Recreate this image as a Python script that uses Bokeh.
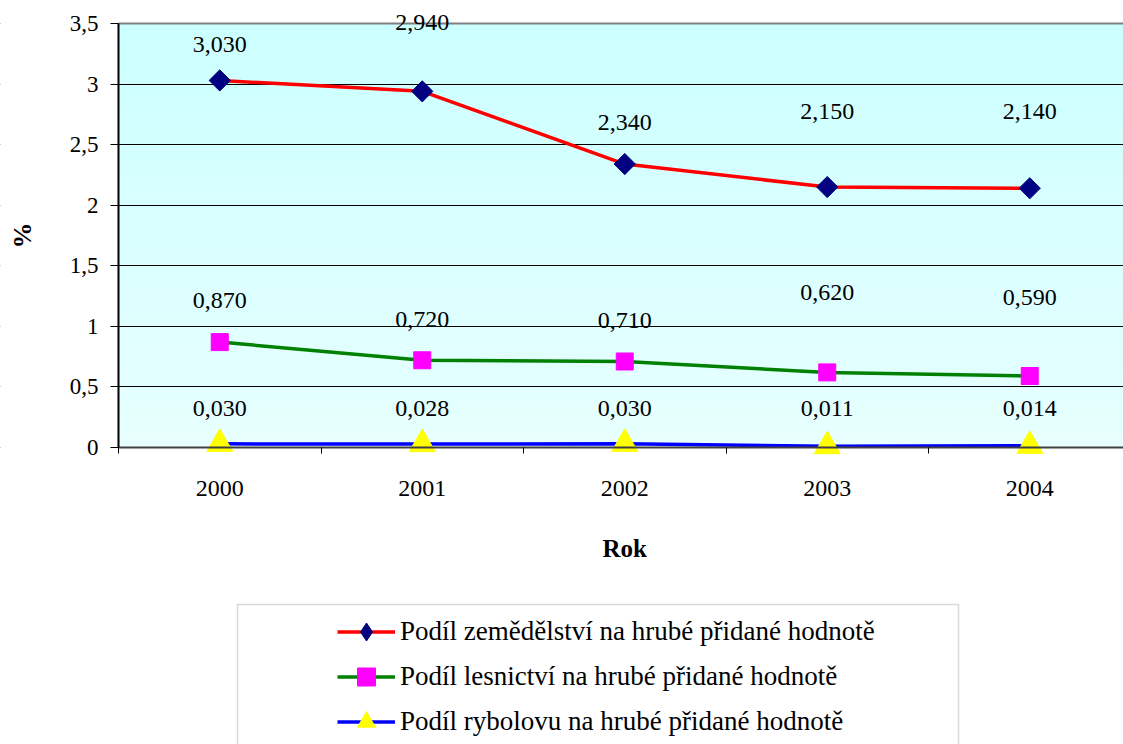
import numpy as np
from bokeh.plotting import figure
from bokeh.models import (Range1d, FixedTicker, Legend, LegendItem, LabelSet, Label,
                          ColumnDataSource, BoxAnnotation, CustomJSTickFormatter,
                          LinearAxis, Grid)
from bokeh.embed import file_html
from bokeh.resources import INLINE

# ---- data ----
years = ["2000", "2001", "2002", "2003", "2004"]
agri = [3.030, 2.940, 2.340, 2.150, 2.140]
forest = [0.870, 0.720, 0.710, 0.620, 0.590]
fish = [0.030, 0.028, 0.030, 0.011, 0.014]
series_names = [
    "Podíl zemědělství na hrubé přidané hodnotě",
    "Podíl lesnictví na hrubé přidané hodnotě",
    "Podíl rybolovu na hrubé přidané hodnotě",
]
y_ticks = [0, 0.5, 1, 1.5, 2, 2.5, 3, 3.5]
x_label = "Rok"
y_label = "%"

# label placement (pixels above point), as in the original manual layout
agri_label_dy = [36, 69, 42, 76, 77]
forest_label_dy = [42, 41, 41, 80, 79]
fish_label_dy = [35, 36, 35, 38, 37]

# ---- layout constants (pixels) ----
W, H = 1123, 744
FRAME_L, FRAME_T, FRAME_B = 118, 23, 447
PX = 202.5                      # pixels per category
PY = (FRAME_B - FRAME_T) / 3.5  # pixels per y unit
FONT = "Liberation Serif"

xs = list(range(len(years)))
x0 = -0.5 - FRAME_L / PX
x1 = -0.5 + (W - FRAME_L) / PX
y1 = 3.5 + FRAME_T / PY
y0 = -(H - FRAME_B) / PY

p = figure(width=W, height=H, output_backend="svg", toolbar_location=None,
           x_range=Range1d(x0, x1), y_range=Range1d(y0, y1),
           x_axis_location=None, y_axis_location=None, min_border=0)
p.outline_line_color = None
p.background_fill_color = "white"
p.border_fill_color = "white"
for g in p.grid:
    g.visible = False

# gradient plot-area background
n = 256
t = np.linspace(0.0, 1.0, n)
img = np.empty((n, 1), dtype=np.uint32)
view = img.view(dtype=np.uint8).reshape((n, 1, 4))
view[:, 0, 0] = (232 + (204 - 232) * t).astype(np.uint8)
view[:, 0, 1] = 255
view[:, 0, 2] = 255
view[:, 0, 3] = 255
p.image_rgba(image=[img], x=-0.5, y=0, dw=5.5, dh=3.5, level="image")

# horizontal grid lines
p.add_layout(Grid(dimension=1, ticker=FixedTicker(ticks=y_ticks),
                  grid_line_color="black", grid_line_width=1))
# keep grid lines out of the area left of the plot
p.quad(left=x0, right=-0.5, bottom=-0.2, top=3.7, fill_color="white", line_color=None)

# y axis
yax = LinearAxis(fixed_location=-0.5, bounds=(0, 3.5), ticker=FixedTicker(ticks=y_ticks),
                 formatter=CustomJSTickFormatter(code="return tick.toString().replace('.', ',');"))
yax.major_tick_out = 8
yax.major_tick_in = 0
yax.minor_tick_out = 0
yax.minor_tick_in = 0
yax.axis_line_width = 2
yax.axis_line_color = "black"
yax.major_label_standoff = 12
yax.major_label_text_font = FONT
yax.major_label_text_font_size = "23px"
yax.major_label_text_color = "black"
p.add_layout(yax, "left")

# x axis
xax = LinearAxis(fixed_location=0, bounds=(-0.5, 4.5),
                 ticker=FixedTicker(ticks=xs, minor_ticks=[i - 0.5 for i in range(len(years) + 1)]))
xax.major_label_overrides = {i: y for i, y in enumerate(years)}
xax.major_tick_out = 0
xax.major_tick_in = 0
xax.minor_tick_out = 6
xax.minor_tick_in = 0
xax.minor_tick_line_color = "black"
xax.axis_line_width = 2
xax.axis_line_color = "#404040"
xax.major_label_standoff = 27
xax.major_label_text_font = FONT
xax.major_label_text_font_size = "24px"
xax.major_label_text_color = "black"
p.add_layout(xax, "below")

# top border of the plot area
top = LinearAxis(fixed_location=3.5, bounds=(-0.5, 4.5), ticker=FixedTicker(ticks=[]))
top.major_tick_out = 0
top.minor_tick_out = 0
top.major_label_text_font_size = "0px"
top.axis_line_color = "#7f7f7f"
top.axis_line_width = 2
p.add_layout(top, "above")

# axis titles
p.add_layout(Label(x=-0.5 - (FRAME_L - 22) / PX, y=1.75, text=y_label, angle=np.pi / 2,
                   text_align="center", text_baseline="middle", text_font=FONT,
                   text_font_style="bold", text_font_size="26px", text_color="black"))
p.add_layout(Label(x=2, y=-(548 - FRAME_B) / PY, text=x_label,
                   text_align="center", text_baseline="middle", text_font=FONT,
                   text_font_style="bold", text_font_size="25px", text_color="black"))

# series
styles = [
    dict(vals=agri, dy=agri_label_dy, line="#FF0000", marker="square", angle=np.pi / 4,
         size=15, fill="#000080", legend_marker="diamond"),
    dict(vals=forest, dy=forest_label_dy, line="#008000", marker="square", angle=0,
         size=17, fill="#FF00FF", legend_marker=None),
    dict(vals=fish, dy=fish_label_dy, line="#0000FF", marker="triangle", angle=0,
         size=26, fill="#FFFF00", legend_marker=None),
]
items = []
for name, st in zip(series_names, styles):
    src = ColumnDataSource(dict(
        x=xs, y=st["vals"],
        text=[f"{v:.3f}".replace(".", ",") for v in st["vals"]],
        dy=list(st["dy"]),
    ))
    lr = p.line("x", "y", source=src, line_color=st["line"], line_width=3.5)
    sr = p.scatter("x", "y", source=src, marker=st["marker"], size=st["size"],
                   angle=st["angle"], fill_color=st["fill"], line_color=st["fill"])
    labels = LabelSet(x="x", y="y", text="text", y_offset="dy", source=src,
                      text_align="center", text_baseline="middle",
                      text_font=FONT, text_font_size="24px", text_color="black")
    p.add_layout(labels)
    if st["legend_marker"]:
        # legend-only marker sample (not drawn in the plot: no valid coordinates)
        lg = p.scatter(x=[np.nan], y=[np.nan], marker=st["legend_marker"],
                       size=st["size"], fill_color=st["fill"], line_color=st["fill"])
        items.append(LegendItem(label=name, renderers=[lr, lg]))
    else:
        items.append(LegendItem(label=name, renderers=[lr, sr]))

legend = Legend(items=items, location=(337, 0), orientation="vertical",
                glyph_width=58, glyph_height=45, label_height=40, spacing=0,
                padding=0, margin=0, label_standoff=5, border_line_color=None,
                background_fill_alpha=0, label_text_font=FONT,
                label_text_font_size="27px", label_text_color="black")
p.add_layout(legend, "center")

p.add_layout(BoxAnnotation(left=237, right=958, top=604, bottom=760,
                           left_units="canvas", right_units="canvas",
                           top_units="canvas", bottom_units="canvas",
                           fill_color=None, line_color="#808080", line_width=1.5,
                           level="overlay"))

open("out.html", "w").write(file_html(p, INLINE))
